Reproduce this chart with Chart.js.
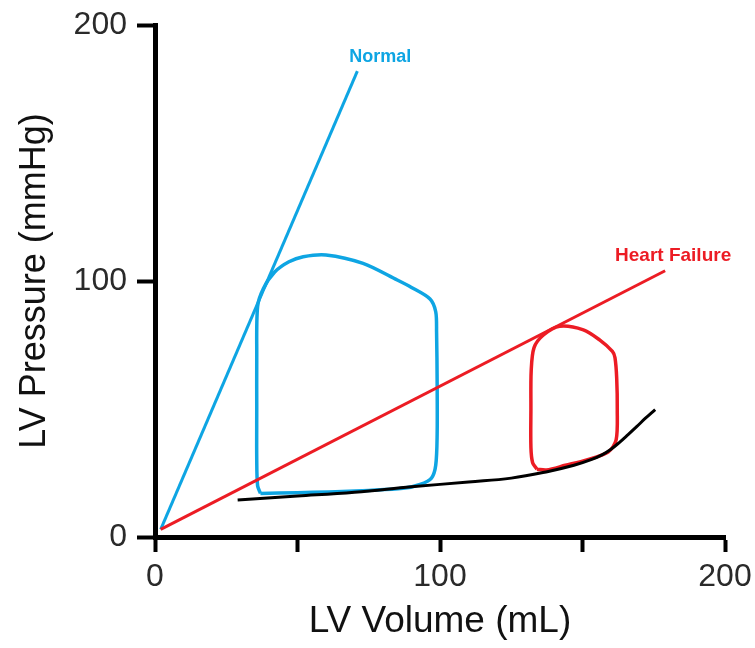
<!DOCTYPE html>
<html>
<head>
<meta charset="utf-8">
<script src="https://cdn.jsdelivr.net/npm/chart.js@4.4.1/dist/chart.umd.min.js"></script>
<style>
  html, body { margin: 0; padding: 0; background: #fff; }
  #wrap { width: 755px; height: 648px; }
</style>
</head>
<body>
<div id="wrap"><canvas id="pv" width="755" height="648"></canvas></div>
<script>
// LV pressure-volume diagram (mL, mmHg)
const xTickValues = [0, 50, 100, 150, 200];
const xTickLabels = ['0', '', '100', '', '200'];
const yTickValues = [0, 100, 200];
const yTickLabels = ['0', '100', '200'];

// end-systolic pressure-volume lines
const normalLineVol = [2, 71];
const normalLinePres = [3, 182];
const hfLineVol = [2, 179];
const hfLinePres = [3, 104];

// end-diastolic pressure-volume curve
const edpvrVol = [29, 50, 70, 90, 110, 125, 138, 147, 153, 157, 160, 163, 166, 169, 172, 175.5];
const edpvrPres = [14.5, 16, 17.5, 19.6, 21.5, 23, 25.6, 28, 30.2, 32.2, 34.3, 37, 40, 43.1, 46.3, 49.8];

// normal loop
const normalLoopVol = [37, 50, 61, 75, 87, 93, 97, 98.5, 99, 99, 98.8, 98.5, 96.5, 90, 85, 73, 60, 52, 47, 42, 38, 36, 35.7, 35.7, 35.7, 36, 37];
const normalLoopPres = [17, 17.3, 17.6, 18.2, 19, 20.5, 23, 28, 40, 60, 80, 88, 93, 97.5, 100.4, 106.9, 110.2, 109.5, 107.5, 103.5, 97, 90, 70, 50, 30, 20, 17];

// heart failure loop
const hfLoopVol = [134, 137.4, 144, 151.5, 159, 161.8, 162.2, 162, 161.4, 160.5, 156, 150.3, 142, 136.3, 133, 132, 131.9, 131.9, 132.5, 134];
const hfLoopPres = [26.5, 26.2, 28, 30.1, 33.2, 37.9, 50, 62, 70, 72.5, 77, 80.9, 82.3, 78.9, 74, 65, 50, 35, 29, 26.5];

const BLUE = '#0ea5e3';
const RED = '#ec1c24';

function pts(xs, ys) {
    return xs.map((x, i) => ({ x: x, y: ys[i] }));
}

function curve(label, xs, ys, color, width, tension) {
    return {
        label: label,
        data: pts(xs, ys),
        showLine: true,
        borderColor: color,
        borderWidth: width,
        pointRadius: 0,
        tension: tension,
        fill: false
    };
}

// text tags next to the lines, anchored in data units
const tags = [
    { text: 'Normal', vol: 79, pres: 187.5, color: BLUE, size: 18 },
    { text: 'Heart Failure', vol: 181.8, pres: 110, color: RED, size: 19 }
];

const tagPlugin = {
    id: 'tags',
    afterDatasetsDraw(chart) {
        const ctx = chart.ctx;
        const xs = chart.scales.x, ys = chart.scales.y;
        ctx.save();
        ctx.textAlign = 'center';
        ctx.textBaseline = 'middle';
        tags.forEach(t => {
            ctx.font = 'bold ' + t.size + 'px "Liberation Sans", Arial, sans-serif';
            ctx.fillStyle = t.color;
            ctx.fillText(t.text, xs.getPixelForValue(t.vol), ys.getPixelForValue(t.pres));
        });
        ctx.restore();
    }
};

new Chart(document.getElementById('pv'), {
    type: 'scatter',
    data: {
        datasets: [
            curve('Heart Failure ESPVR', hfLineVol, hfLinePres, RED, 3, 0),
            curve('Normal ESPVR', normalLineVol, normalLinePres, BLUE, 3, 0),
            curve('EDPVR', edpvrVol, edpvrPres, '#000', 3, 0.4),
            curve('Heart Failure loop', hfLoopVol, hfLoopPres, RED, 3.5, 0.3),
            curve('Normal loop', normalLoopVol, normalLoopPres, BLUE, 3.5, 0.3)
        ]
    },
    options: {
        responsive: false,
        animation: false,
        layout: { padding: { top: 25, right: 30, left: 0, bottom: 0 } },
        plugins: {
            legend: { display: false },
            tooltip: { enabled: false }
        },
        scales: {
            x: {
                type: 'linear',
                min: 0,
                max: 200,
                afterFit: s => { s.height = 111; s.paddingLeft = 0; s.paddingRight = 0; },
                afterBuildTicks: s => { s.ticks = xTickValues.map(v => ({ value: v })); },
                ticks: {
                    autoSkip: false,
                    maxRotation: 0,
                    padding: 6,
                    color: '#2a2a2a',
                    font: { family: '"Liberation Sans", Arial, sans-serif', size: 32 },
                    callback: (v, i) => xTickLabels[i]
                },
                grid: { drawOnChartArea: false, drawTicks: true, tickLength: 15, tickWidth: 4, tickColor: '#000' },
                border: { display: true, color: '#000', width: 5 },
                title: {
                    display: true,
                    text: 'LV Volume (mL)',
                    color: '#111',
                    font: { family: '"Liberation Sans", Arial, sans-serif', size: 37, lineHeight: 1 },
                    padding: { top: 0, bottom: 8 }
                }
            },
            y: {
                type: 'linear',
                min: 0,
                max: 200,
                afterFit: s => { s.width = 155; s.paddingTop = 0; s.paddingBottom = 0; },
                afterBuildTicks: s => { s.ticks = yTickValues.map(v => ({ value: v })); },
                ticks: {
                    autoSkip: false,
                    padding: 10,
                    color: '#2a2a2a',
                    font: { family: '"Liberation Sans", Arial, sans-serif', size: 32 },
                    callback: (v, i) => yTickLabels[i]
                },
                grid: { drawOnChartArea: false, drawTicks: true, tickLength: 18, tickWidth: 4, tickColor: '#000' },
                border: { display: true, color: '#000', width: 5 },
                title: {
                    display: true,
                    text: 'LV Pressure (mmHg)',
                    color: '#111',
                    font: { family: '"Liberation Sans", Arial, sans-serif', size: 36, lineHeight: 1 },
                    padding: { top: 17, bottom: 0 }
                }
            }
        }
    },
    plugins: [tagPlugin]
});
</script>
</body>
</html>
